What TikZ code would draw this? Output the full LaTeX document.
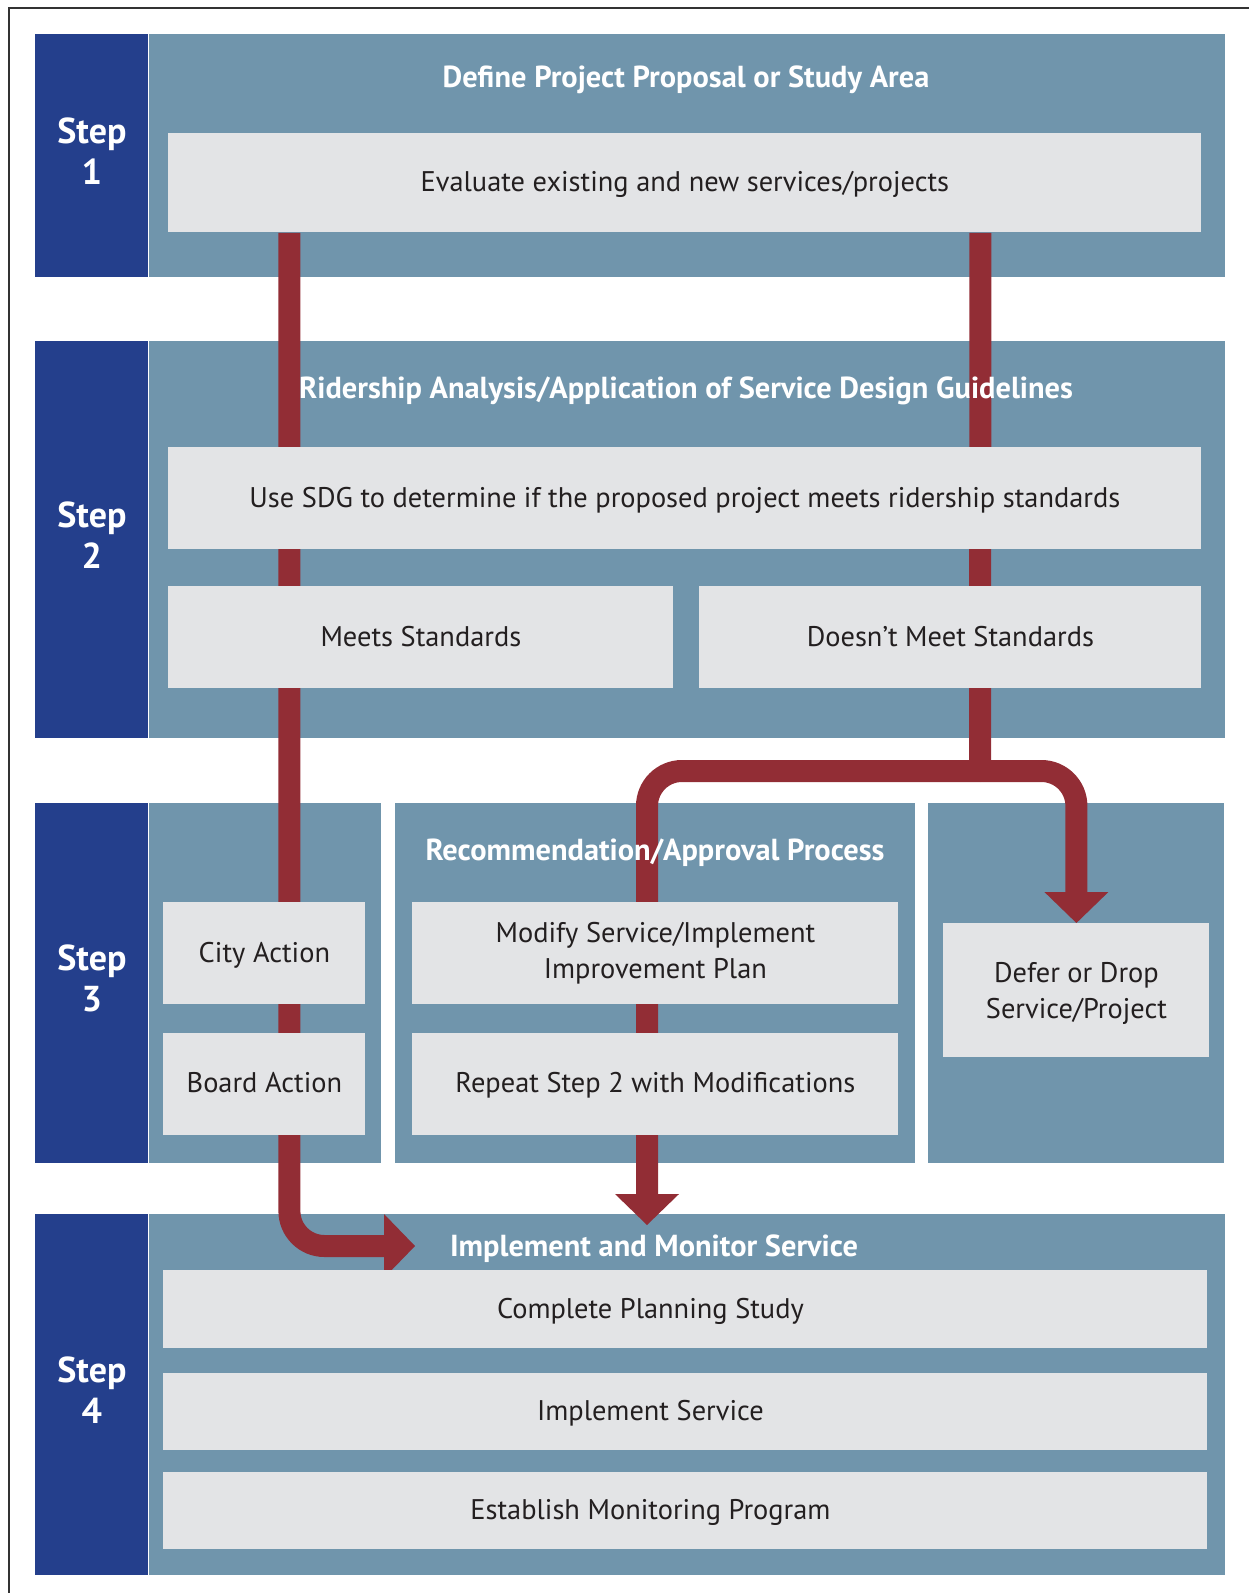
\documentclass[tikz,border=0pt]{standalone}
\usepackage{fontspec}
\setmainfont{PT Sans}
\usetikzlibrary{positioning, arrows.meta}
\definecolor{stepblue}{RGB}{36,63,140}
\definecolor{panelblue}{RGB}{112,149,172}
\definecolor{boxgrey}{RGB}{227,228,230}
\definecolor{boxtext}{RGB}{35,31,32}
\definecolor{flowred}{RGB}{146,45,53}
\pgfdeclarelayer{panels}
\pgfdeclarelayer{flows}
\pgfsetlayers{panels,flows,main}

\begin{document}
\begin{tikzpicture}[x=0.5pt, y=-0.5pt, stepcell/.style={fill=stepblue, inner sep=0pt, anchor=north west, minimum width=56.5pt}, steplabel/.style={text=white, font=\fontsize{18}{20.5}\selectfont\bfseries, align=center}, panel/.style={fill=panelblue, inner sep=0pt, anchor=north west}, boxtextstyle/.style={text=boxtext, font=\fontsize{14.2}{17.8}\selectfont, align=center}, boxlabel/.style={boxtextstyle, text height=8.6pt, text depth=0pt}, box/.style={boxtextstyle, fill=boxgrey, inner sep=0pt, anchor=north west, text height=8.6pt, text depth=0pt}, tallbox/.style={boxtextstyle, fill=boxgrey, inner sep=0pt, anchor=north west}, title/.style={text=white, font=\fontsize{15.2}{18}\selectfont\bfseries}, flowline/.style={draw=flowred, line width=11pt}, flow/.style={flowline, rounded corners=17.5pt, -{Triangle[width=32pt, length=15.5pt, line width=0pt]}}]
	\useasboundingbox (0,0) rectangle (1249,1593);
	\draw[line width=1.2pt, black!80] (9,1593) -- (9,8) -- (1249,8);
	% step bands
	\begin{pgfonlayer}{panels}
		\node[stepcell, minimum height=121.5pt] (s1) at (35,34) {};
		\node[stepcell, minimum height=198.5pt] (s2) at (35,341) {};
		\node[stepcell, minimum height=180pt] (s3) at (35,803) {};
		\node[stepcell, minimum height=180.5pt] (s4) at (35,1214) {};
		\node[panel, minimum width=538pt, minimum height=121.5pt] (p1) at (s1.north east) {};
		\node[panel, minimum width=538pt, minimum height=198.5pt] (p2) at (s2.north east) {};
		\node[panel, minimum width=116pt, minimum height=180pt] (p3a) at (s3.north east) {};
		\node[panel, minimum width=260pt, minimum height=180pt] (p3b) at (395,803) {};
		\node[panel, minimum width=148pt, minimum height=180pt] (p3c) at (928,803) {};
		\node[panel, minimum width=538pt, minimum height=180.5pt] (p4) at (s4.north east) {};
	\end{pgfonlayer}
	\node[steplabel] (l1) at ([yshift=2.5pt]s1.center) {Step\\1};
	\node[steplabel] (l2) at ([yshift=2.5pt]s2.center) {Step\\2};
	\node[steplabel] (l3) at ([yshift=2.5pt]s3.center) {Step\\3};
	\node[steplabel] (l4) at ([yshift=2.5pt]s4.center) {Step\\4};
	% titles
	\node[title] (t1) at (686,80) {Define Project Proposal or Study Area};
	\node[title] (t2) at (686,391) {Ridership Analysis/Application of Service Design Guidelines};
	\node[title] (t3) at (655,853) {Recommendation/Approval Process};
	\node[title] (t4) at (654,1249) {Implement and Monitor Service};
	% boxes
	\node[box, minimum width=516.5pt, minimum height=49.5pt] (eval) at (168,133) {Evaluate existing and new services/projects};
	\node[box, minimum width=516.5pt, minimum height=51pt] (sdg) at (168,447) {Use SDG to determine if the proposed project meets ridership standards};
	\node[box, minimum width=252.5pt, minimum height=51pt] (meets) at (168,586) {Meets Standards};
	\node[box, minimum width=251pt, minimum height=51pt] (notmeet) at (699,586) {Doesn’t Meet Standards};
	\node[box, minimum width=101pt, minimum height=51pt] (city) at (163,902) {City Action};
	\node[box, minimum width=101pt, minimum height=51pt, below=14pt of city] (board) {Board Action};
	\node[tallbox, minimum width=243pt, minimum height=51pt] (modify) at (412,902) {Modify Service/Implement\\Improvement Plan};
	\node[box, minimum width=243pt, minimum height=51pt, below=14pt of modify] (repeat) {Repeat Step 2 with Modifications};
	\node[tallbox, minimum width=133pt, minimum height=67pt, label={[boxtextstyle, yshift=-1.5pt]center:Defer or Drop\\Service/Project}] (defer) at (943,923) {};
	\node[box, minimum width=522pt, minimum height=39pt, label={[boxlabel, xshift=-17.5pt]center:Complete Planning Study}] (plan) at (163,1270) {};
	\node[box, minimum width=522pt, minimum height=38.5pt, below=12pt of plan, label={[boxlabel, xshift=-17.5pt]center:Implement Service}] (implsvc) {};
	\node[box, minimum width=522pt, minimum height=38.5pt, below=10.5pt of implsvc, label={[boxlabel, xshift=-17.5pt]center:Establish Monitoring Program}] (monitor) {};
	% flows
	\coordinate (split) at (980,771);
	\coordinate (tomonitor) at (415,1246);
	\coordinate (totitle) at (647,1225);
	\begin{pgfonlayer}{flows}
		\draw[flow] ([xshift=-197.75pt]eval.south) |- (tomonitor);
		\draw[flowline] ([xshift=147.75pt]eval.south) -- (split);
		\draw[flow] (split) -| (defer.north);
		\draw[flow] (split) -| (totitle);
	\end{pgfonlayer}
\end{tikzpicture}
\end{document}
